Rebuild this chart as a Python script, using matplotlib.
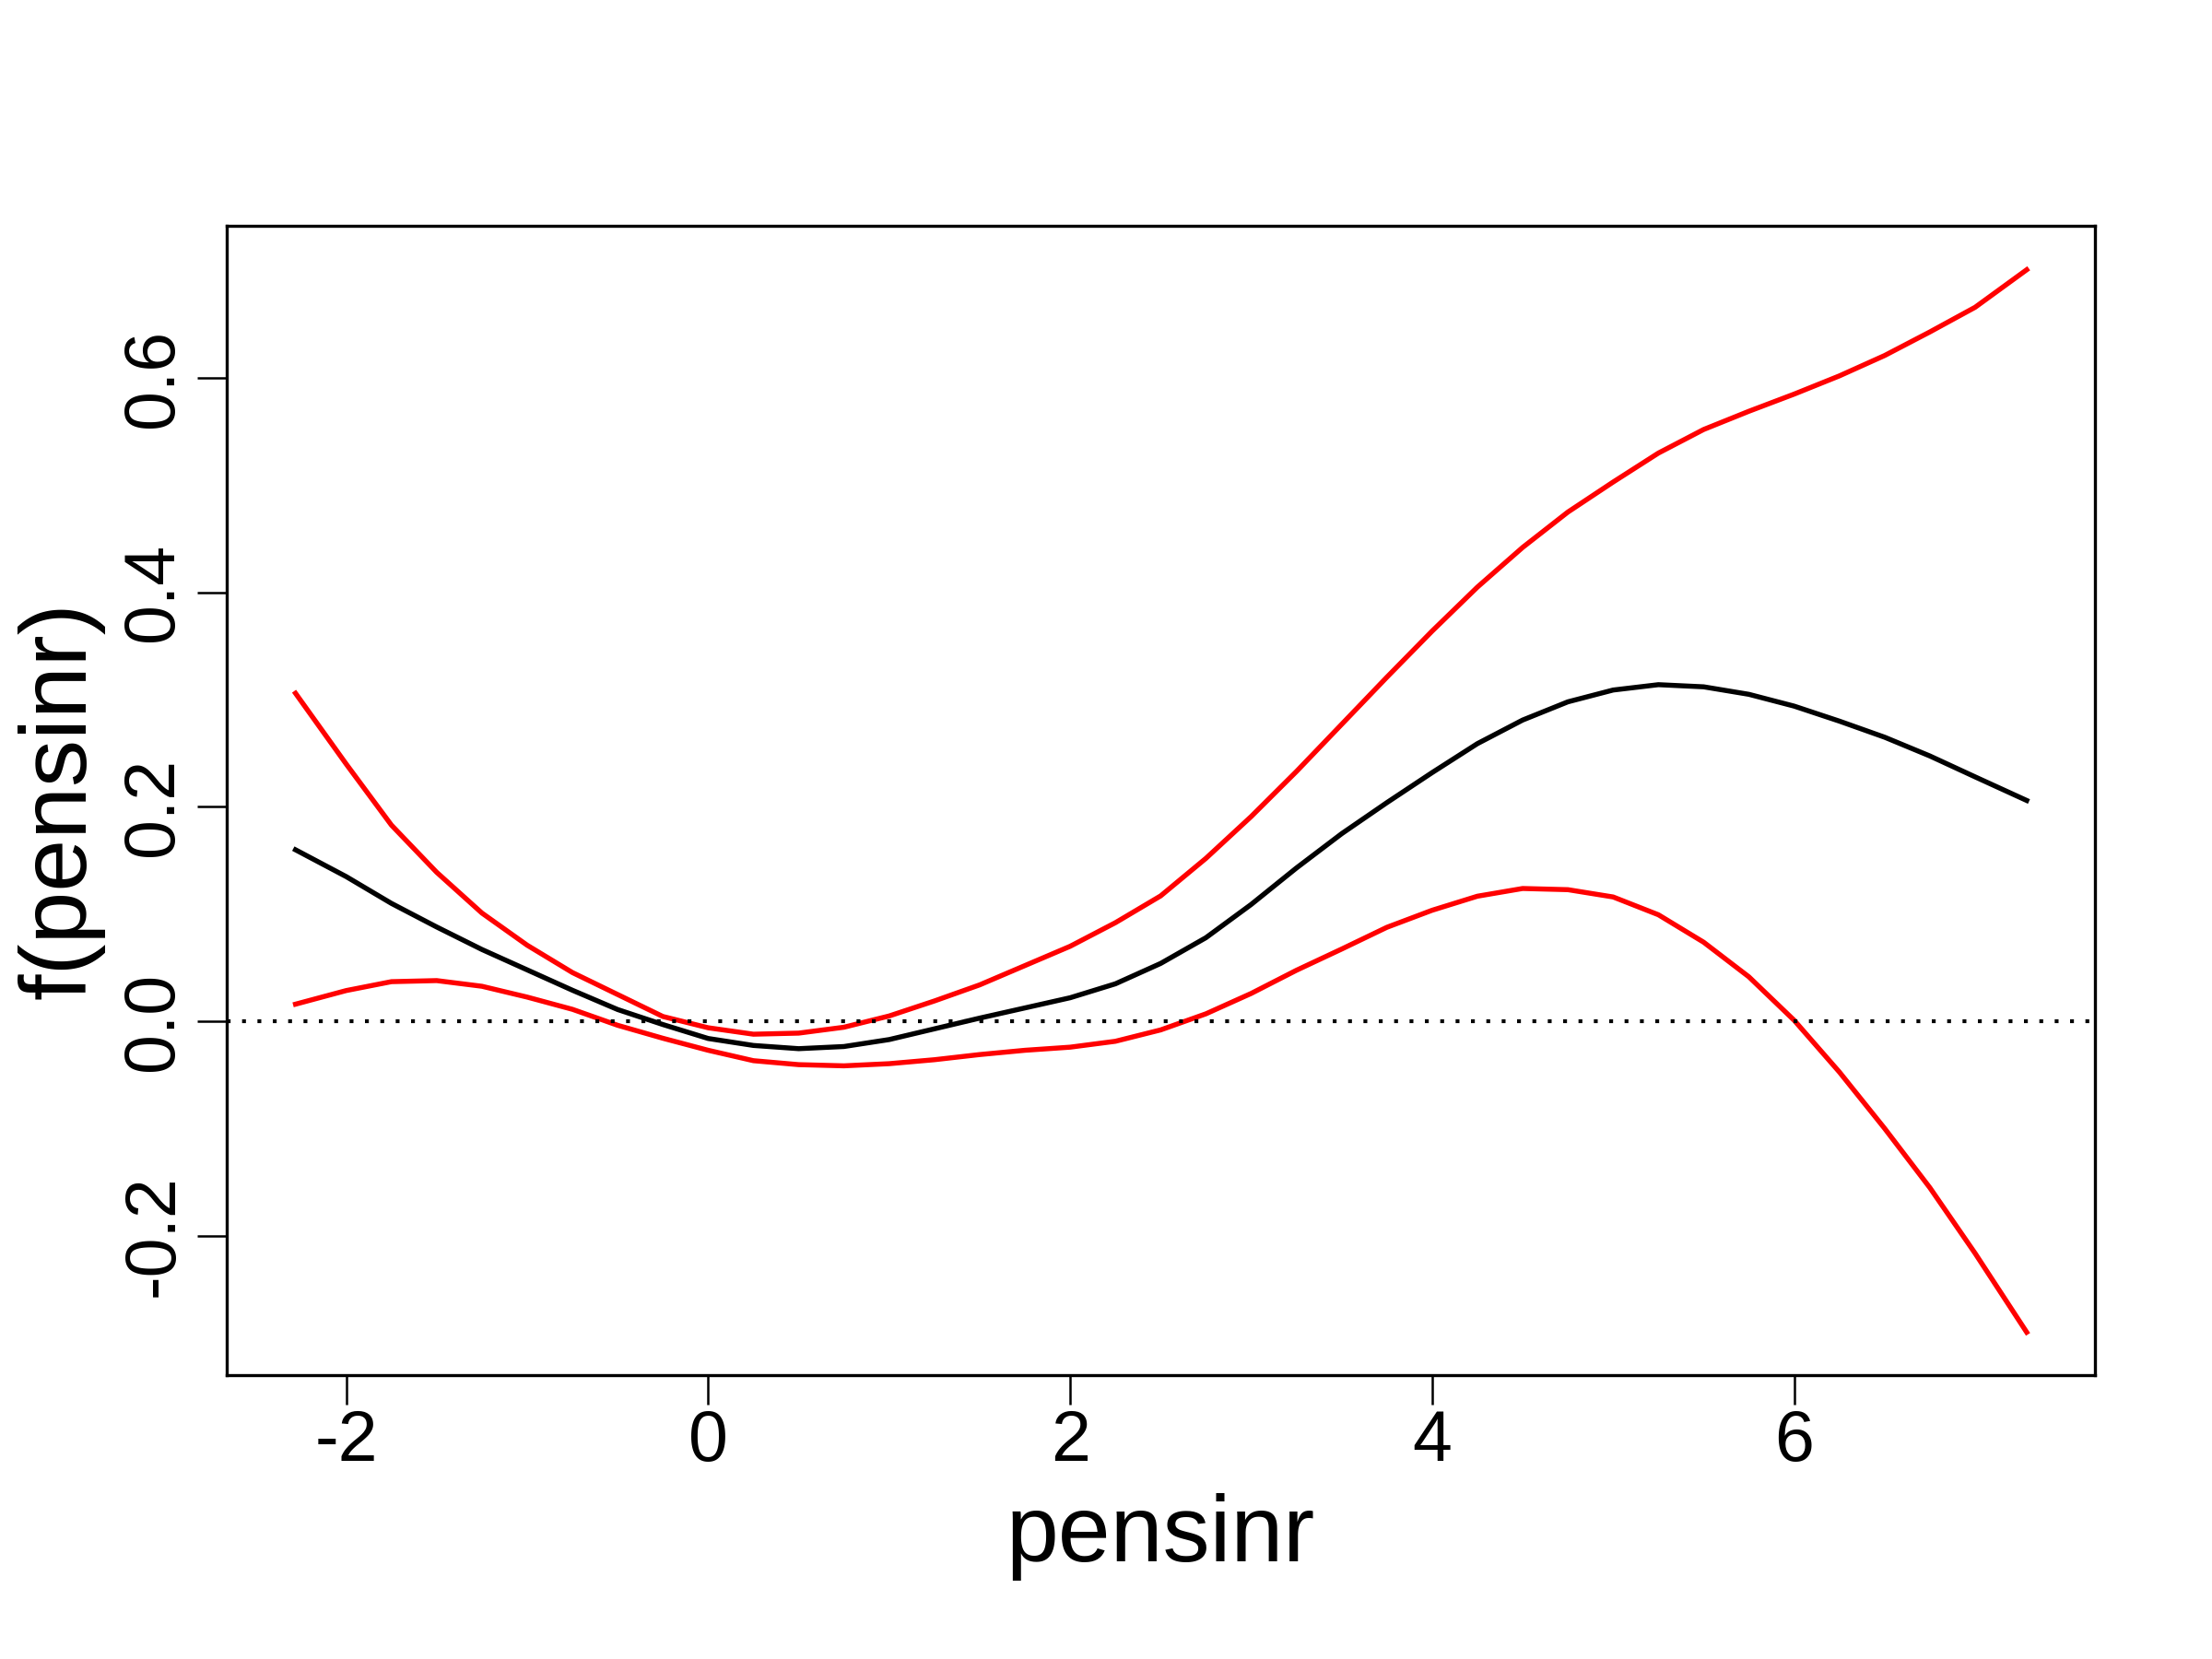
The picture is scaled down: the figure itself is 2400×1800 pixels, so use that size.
import matplotlib
matplotlib.use("Agg")
import matplotlib.pyplot as plt

# x positions where the curves were read
x_vals = [-2.28, -2.0, -1.75, -1.5, -1.25, -1.0, -0.75, -0.5, -0.25, 0.0,
          0.25, 0.5, 0.75, 1.0, 1.25, 1.5, 1.75, 2.0, 2.25, 2.5,
          2.75, 3.0, 3.25, 3.5, 3.75, 4.0, 4.25, 4.5, 4.75, 5.0,
          5.25, 5.5, 5.75, 6.0, 6.25, 6.5, 6.75, 7.0, 7.285]

fit = [0.160, 0.135, 0.110, 0.088, 0.067, 0.048, 0.029, 0.011, -0.003, -0.016,
       -0.0225, -0.0255, -0.0235, -0.017, -0.007, 0.003, 0.0125, 0.022, 0.035, 0.054,
       0.078, 0.109, 0.143, 0.175, 0.204, 0.232, 0.259, 0.281, 0.298, 0.309,
       0.314, 0.312, 0.305, 0.294, 0.280, 0.265, 0.2475, 0.228, 0.206]

upper = [0.306, 0.240, 0.183, 0.139, 0.101, 0.071, 0.0455, 0.025, 0.0045, -0.006,
         -0.012, -0.011, -0.0055, 0.005, 0.019, 0.034, 0.052, 0.070, 0.092, 0.117,
         0.152, 0.191, 0.233, 0.277, 0.321, 0.364, 0.405, 0.442, 0.475, 0.503,
         0.530, 0.552, 0.569, 0.585, 0.602, 0.621, 0.643, 0.666, 0.701]

lower = [0.016, 0.0287, 0.037, 0.038, 0.0327, 0.0226, 0.0112, -0.0037, -0.0158, -0.027,
         -0.0367, -0.0404, -0.0415, -0.0395, -0.0358, -0.031, -0.027, -0.0241, -0.0186, -0.008,
         0.007, 0.026, 0.0476, 0.0674, 0.0877, 0.1036, 0.1167, 0.1239, 0.1228, 0.116,
         0.0994, 0.0738, 0.0415, 0.001, -0.0473, -0.0999, -0.1552, -0.2164, -0.290]

x_ticks = [-2, 0, 2, 4, 6]
y_ticks = [-0.2, 0.0, 0.2, 0.4, 0.6]
y_tick_labels = ["-0.2", "0.0", "0.2", "0.4", "0.6"]

plt.rcParams['font.family'] = ['Liberation Sans', 'DejaVu Sans']

fig = plt.figure(figsize=(8, 6), dpi=300)
ax = fig.add_axes([0.1025, 0.1711, 0.947 - 0.1025, 0.8639 - 0.1711])

ax.plot(x_vals, fit, color='black', lw=1.3, solid_joinstyle='round')
ax.plot(x_vals, upper, color='#FF0000', lw=1.3, solid_joinstyle='round')
ax.plot(x_vals, lower, color='#FF0000', lw=1.3, solid_joinstyle='round')
ax.axhline(0.0, color='black', lw=1.0, linestyle=(0, (1, 3)))

ax.set_xlim(-2.66, 7.661)
ax.set_ylim(-0.330, 0.742)

ax.set_xticks(x_ticks)
ax.set_xticklabels([str(t) for t in x_ticks])
ax.set_yticks(y_ticks)
ax.set_yticklabels(y_tick_labels, rotation=90, va='center')

ax.tick_params(axis='both', direction='out', length=7.7, width=0.6, labelsize=18.5, color='black')
ax.tick_params(axis='x', pad=1)
ax.tick_params(axis='y', pad=2.5)

for sp in ax.spines.values():
    sp.set_linewidth(0.8)
    sp.set_color('black')

ax.set_xlabel('pensinr', fontsize=24.5, labelpad=4.5)
ax.set_ylabel('f(pensinr)', fontsize=24.5, labelpad=4)

fig.savefig('out.png', dpi=300, facecolor='white')
